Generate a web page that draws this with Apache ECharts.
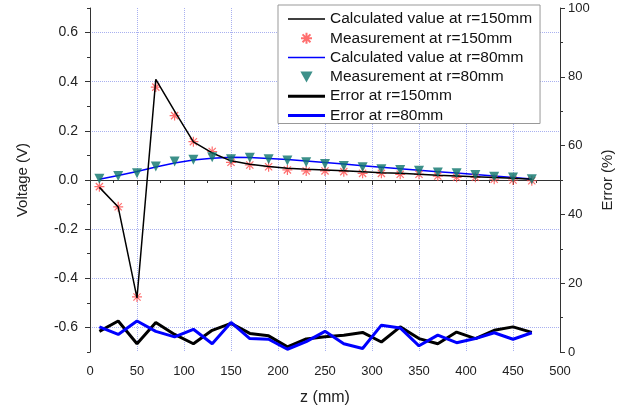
<!DOCTYPE html>
<html>
<head>
<meta charset="utf-8">
<script src="https://cdn.jsdelivr.net/npm/echarts@6/dist/echarts.min.js"></script>
<style>
  html, body { margin: 0; padding: 0; background: #fff; }
  #chart { width: 629px; height: 413px; }
</style>
</head>
<body>
<div id="chart"></div>
<script>
// z positions (mm)
const zPos = [10, 30, 50, 70, 90, 110, 130, 150, 170, 190, 210, 230, 250, 270, 290, 310, 330, 350, 370, 390, 410, 430, 450, 470];

// voltage (V)
const calc150 = [-0.03, -0.11, -0.48, 0.41, 0.28, 0.155, 0.11, 0.078, 0.064, 0.055, 0.048, 0.044, 0.041, 0.038, 0.034, 0.030, 0.027, 0.023, 0.019, 0.016, 0.013, 0.010, 0.007, 0.003];
const meas150 = [-0.027, -0.109, -0.476, 0.378, 0.262, 0.156, 0.116, 0.072, 0.061, 0.054, 0.041, 0.037, 0.037, 0.034, 0.027, 0.027, 0.023, 0.023, 0.016, 0.011, 0.011, 0.003, 0.0, -0.003];
const calc80 = [0.003, 0.018, 0.035, 0.053, 0.069, 0.081, 0.089, 0.093, 0.092, 0.088, 0.083, 0.077, 0.071, 0.065, 0.058, 0.052, 0.046, 0.040, 0.034, 0.028, 0.022, 0.016, 0.010, 0.004];
const meas80 = [0.005, 0.016, 0.027, 0.055, 0.075, 0.082, 0.093, 0.084, 0.091, 0.084, 0.079, 0.072, 0.065, 0.057, 0.052, 0.044, 0.041, 0.038, 0.031, 0.027, 0.020, 0.013, 0.010, 0.003];

// error (%)
const err150 = [6.0, 9.0, 2.4, 8.6, 5.1, 2.4, 6.3, 8.3, 5.4, 4.7, 1.5, 3.8, 4.4, 4.9, 5.7, 2.9, 7.3, 3.9, 2.4, 5.8, 3.9, 6.3, 7.3, 5.7];
const err80 = [7.3, 5.1, 9.0, 6.0, 4.4, 6.6, 2.4, 8.6, 3.9, 3.7, 0.8, 3.0, 6.0, 2.4, 1.0, 7.8, 7.0, 1.8, 4.9, 2.7, 3.9, 5.6, 3.7, 5.6];

const names = [
  'Calculated value at r=150mm',
  'Measurement at r=150mm',
  'Calculated value at r=80mm',
  'Measurement at r=80mm',
  'Error at r=150mm',
  'Error at r=80mm'
];

const font = 'Liberation Sans, Arial, sans-serif';
const axisColor = '#333';
const gridColor = '#a8b0f0';
const asterisk = 'path://M0,-5L0,5M-5,0L5,0M-3.6,-3.6L3.6,3.6M-3.6,3.6L3.6,-3.6';
const thinLine = 'path://M0,0H37V1.5H0Z';
const thickLine = 'path://M0,0H37V3H0Z';
const downTriangle = 'path://M0,0L10,0L5,9Z';

function pairs(vals) {
  return zPos.map((z, i) => [z, vals[i]]);
}

const chart = echarts.init(document.getElementById('chart'));

chart.setOption({
  animation: false,
  textStyle: { fontFamily: font },
  // grid 0 holds the data, grid 1 only carries the labelled voltage axis (-0.6..0.6)
  grid: [
    { left: 90, right: 69, top: 8, bottom: 61 },
    { left: 90, right: 69, top: 8 + 344 / 14, bottom: 61 + 344 / 14 }
  ],
  legend: {
    orient: 'vertical',
    left: 278,
    top: 5,
    itemWidth: 37,
    itemHeight: 11,
    itemGap: 3.3,
    padding: [6, 8, 0, 10],
    borderColor: '#999',
    borderWidth: 1,
    backgroundColor: '#fff',
    textStyle: { fontSize: 15.5, lineHeight: 15, color: '#111', fontFamily: font },
    data: [
      { name: names[0], icon: thinLine },
      { name: names[1] },
      { name: names[2], icon: thinLine },
      { name: names[3], icon: downTriangle },
      { name: names[4], icon: thickLine },
      { name: names[5], icon: thickLine }
    ]
  },
  xAxis: [
    {
      gridIndex: 0,
      type: 'value',
      min: 0,
      max: 500,
      interval: 50,
      name: 'z (mm)',
      nameLocation: 'middle',
      nameGap: 38,
      nameTextStyle: { fontSize: 16, color: '#222' },
      axisLine: { lineStyle: { color: axisColor, width: 1 } },
      axisTick: { length: 5, lineStyle: { color: axisColor } },
      minorTick: { show: true, splitNumber: 2, length: 3, lineStyle: { color: axisColor } },
      axisLabel: { fontSize: 13, color: '#222', margin: 13 },
      splitLine: { show: true, lineStyle: { color: gridColor, type: 'dotted', width: 1 } }
    },
    {
      gridIndex: 1,
      type: 'value',
      min: 0,
      max: 500,
      show: false
    }
  ],
  yAxis: [
    {
      gridIndex: 0,
      type: 'value',
      position: 'left',
      min: -0.7,
      max: 0.7,
      interval: 0.1,
      axisLine: { show: true, lineStyle: { color: axisColor, width: 1 } },
      axisTick: { length: 3, lineStyle: { color: axisColor } },
      axisLabel: { show: false },
      splitLine: { show: false }
    },
    {
      gridIndex: 0,
      type: 'value',
      position: 'right',
      min: 0,
      max: 100,
      interval: 20,
      name: 'Error (%)',
      nameLocation: 'middle',
      nameGap: 40,
      nameRotate: 90,
      nameTextStyle: { fontSize: 15, color: '#222' },
      axisLine: { show: true, lineStyle: { color: axisColor, width: 1 } },
      axisTick: { length: 5, lineStyle: { color: axisColor } },
      minorTick: { show: true, splitNumber: 2, length: 3, lineStyle: { color: axisColor } },
      axisLabel: { fontSize: 13, color: '#222', margin: 8 },
      splitLine: { show: false }
    },
    {
      gridIndex: 1,
      type: 'value',
      position: 'left',
      min: -0.6,
      max: 0.6,
      interval: 0.2,
      name: 'Voltage (V)',
      nameLocation: 'middle',
      nameGap: 60,
      nameTextStyle: { fontSize: 15, color: '#222' },
      axisLine: { show: false },
      axisTick: { length: 5, lineStyle: { color: axisColor } },
      axisLabel: {
        fontSize: 14,
        color: '#222',
        margin: 12,
        formatter: v => v.toFixed(1)
      },
      splitLine: { show: true, lineStyle: { color: gridColor, type: 'dotted', width: 1 } }
    }
  ],
  series: [
    {
      name: names[0],
      type: 'line',
      xAxisIndex: 0,
      yAxisIndex: 0,
      symbol: 'none',
      z: 4,
      lineStyle: { color: '#000', width: 1.5 },
      itemStyle: { color: '#000' },
      data: pairs(calc150)
    },
    {
      name: names[1],
      type: 'scatter',
      xAxisIndex: 0,
      yAxisIndex: 0,
      symbol: asterisk,
      symbolSize: 10,
      z: 3,
      itemStyle: { color: '#ff4a4a', borderColor: '#ff4a4a', borderWidth: 1.2 },
      data: pairs(meas150)
    },
    {
      name: names[2],
      type: 'line',
      xAxisIndex: 0,
      yAxisIndex: 0,
      symbol: 'none',
      z: 3,
      lineStyle: { color: '#0000ff', width: 1.5 },
      itemStyle: { color: '#0000ff' },
      data: pairs(calc80)
    },
    {
      name: names[3],
      type: 'scatter',
      xAxisIndex: 0,
      yAxisIndex: 0,
      symbol: 'triangle',
      symbolRotate: 180,
      symbolSize: 10,
      z: 5,
      itemStyle: { color: '#0b746b' },
      data: pairs(meas80)
    },
    {
      name: names[4],
      type: 'line',
      xAxisIndex: 0,
      yAxisIndex: 1,
      symbol: 'none',
      z: 2,
      lineStyle: { color: '#000', width: 3 },
      itemStyle: { color: '#000' },
      data: pairs(err150)
    },
    {
      name: names[5],
      type: 'line',
      xAxisIndex: 0,
      yAxisIndex: 1,
      symbol: 'none',
      z: 2,
      lineStyle: { color: '#0000ff', width: 3 },
      itemStyle: { color: '#0000ff' },
      data: pairs(err80)
    }
  ]
});
</script>
</body>
</html>
